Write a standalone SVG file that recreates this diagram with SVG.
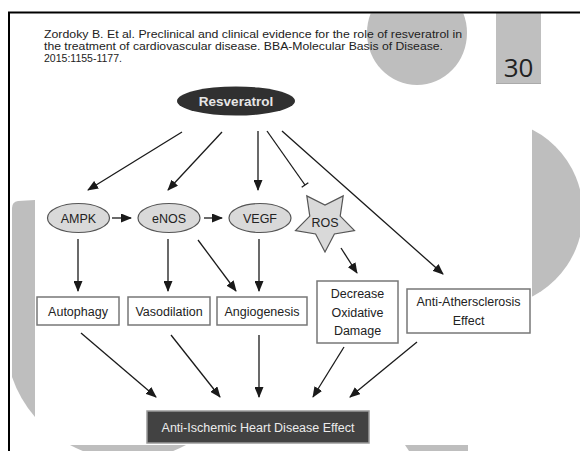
<svg xmlns="http://www.w3.org/2000/svg" width="580" height="451" viewBox="0 0 580 451">
<defs>
<marker id="ah" markerUnits="userSpaceOnUse" markerWidth="11" markerHeight="9" refX="10" refY="4.5" orient="auto"><path d="M0,0 L11,4.5 L0,9 Z" fill="#1a1a1a"/></marker>
<clipPath id="slide"><rect x="10" y="13.5" width="570" height="437.5"/></clipPath>
</defs>
<style>
.deco{fill:#bebebe}
.cite{font-family:"Liberation Sans",Arial,sans-serif;font-size:10.5px;fill:#222}
.lbl{font-family:"Liberation Sans",Arial,sans-serif;font-size:12.5px;fill:#222;text-anchor:middle}
.oval{fill:#d9d9d9;stroke:#555;stroke-width:1.2}
.box{fill:#fff;stroke:#777;stroke-width:1.5}
.edge{stroke:#1a1a1a;stroke-width:1.3;fill:none}
.arr{marker-end:url(#ah)}
</style>
<rect width="580" height="451" fill="#fff"/>
<g id="background" clip-path="url(#slide)">
<ellipse class="deco" cx="417" cy="33" rx="50" ry="52"/>
<circle class="deco" cx="489" cy="213" r="94"/>
<path class="deco" d="M35,200 L18,201 Q12,202 12,208 L12,377 A122,122 0 0 0 35,417 Z"/>
<path class="deco" d="M70,445 A122,122 0 0 0 186,445 Z"/>
<path class="deco" d="M405,445 L468,445 L468,451 L409,451 Z"/>
<rect x="35" y="92" width="497" height="353" fill="#fff"/>
</g>
<g id="page-number">
<rect x="496" y="13" width="45" height="70" fill="#bfbfbf"/>
<line x1="496" y1="83.5" x2="541" y2="83.5" stroke="#aaa" stroke-width="1"/>
<text x="518.5" y="77" font-family="'Open Sans','DejaVu Sans',sans-serif" font-size="26" fill="#222" text-anchor="middle">30</text>
</g>
<g id="citation">
<text class="cite" x="44" y="38" textLength="418" lengthAdjust="spacingAndGlyphs">Zordoky B. Et al. Preclinical and clinical evidence for the role of resveratrol in</text>
<text class="cite" x="44" y="50" textLength="399" lengthAdjust="spacingAndGlyphs">the treatment of cardiovascular disease.  BBA-Molecular Basis of Disease.</text>
<text class="cite" x="44" y="62" textLength="78" lengthAdjust="spacingAndGlyphs">2015:1155-1177.</text>
</g>
<g id="frame" stroke="#000" stroke-width="2">
<line x1="8" y1="12.5" x2="580" y2="12.5"/>
<line x1="9" y1="12" x2="9" y2="451"/>
</g>
<g id="connectors">
<line class="edge arr" x1="182" y1="132" x2="88" y2="190"/>
<line class="edge arr" x1="222" y1="132" x2="168" y2="190"/>
<line class="edge arr" x1="258" y1="131" x2="258" y2="190"/>
<line class="edge" x1="267" y1="131" x2="305" y2="185"/>
<line class="edge" x1="301.7" y1="187.3" x2="308.3" y2="182.7"/>
<line class="edge arr" x1="282" y1="131" x2="443" y2="274"/>
<line class="edge arr" x1="112" y1="218" x2="131" y2="218"/>
<line class="edge arr" x1="204" y1="218" x2="222" y2="218"/>
<line class="edge arr" x1="78" y1="239" x2="78" y2="291"/>
<line class="edge arr" x1="168" y1="239" x2="168" y2="291"/>
<line class="edge arr" x1="259" y1="239" x2="259" y2="291"/>
<line class="edge arr" x1="198" y1="240" x2="236" y2="291"/>
<line class="edge arr" x1="341" y1="248" x2="357" y2="273"/>
<line class="edge arr" x1="81" y1="333" x2="156" y2="397"/>
<line class="edge arr" x1="171" y1="335" x2="220" y2="397"/>
<line class="edge arr" x1="259" y1="335" x2="259" y2="397"/>
<line class="edge arr" x1="344" y1="347" x2="313" y2="397"/>
<line class="edge arr" x1="417" y1="342" x2="350" y2="397"/>
</g>
<g id="resveratrol">
<ellipse cx="236" cy="101" rx="59" ry="14.5" fill="#303030"/>
<text x="236" y="106" font-family="'Liberation Sans',Arial,sans-serif" font-size="13.5" font-weight="bold" fill="#e6e6e6" text-anchor="middle">Resveratrol</text>
</g>
<g id="ampk">
<ellipse class="oval" cx="78.5" cy="218" rx="31" ry="14.5"/>
<text class="lbl" x="78.5" y="222.5">AMPK</text>
</g>
<g id="enos">
<ellipse class="oval" cx="169" cy="218" rx="31" ry="14.5"/>
<text class="lbl" x="169" y="222.5">eNOS</text>
</g>
<g id="vegf">
<ellipse class="oval" cx="260" cy="218" rx="31" ry="14.5"/>
<text class="lbl" x="260" y="222.5">VEGF</text>
</g>
<g id="ros">
<polygon points="325,252 315.6,234 295.5,230.6 309.8,216.1 306.8,195.9 325,205 343.2,195.9 340.2,216.1 354.5,230.6 334.4,234" fill="#d9d9d9" stroke="#555" stroke-width="1.2" stroke-linejoin="miter"/>
<text class="lbl" x="325" y="226.5" font-size="12">ROS</text>
</g>
<g id="autophagy">
<rect class="box" x="37" y="297" width="82" height="28"/>
<text class="lbl" x="78" y="315.5">Autophagy</text>
</g>
<g id="vasodilation">
<rect class="box" x="128" y="297" width="82" height="28"/>
<text class="lbl" x="169" y="315.5">Vasodilation</text>
</g>
<g id="angiogenesis">
<rect class="box" x="217" y="297" width="90" height="28"/>
<text class="lbl" x="262" y="315.5">Angiogenesis</text>
</g>
<g id="decrease">
<rect class="box" x="317" y="281" width="81" height="62"/>
<text class="lbl" x="357.5" y="298">Decrease</text>
<text class="lbl" x="357.5" y="316.5">Oxidative</text>
<text class="lbl" x="357.5" y="335">Damage</text>
</g>
<g id="anti-athersclerosis">
<rect class="box" x="407" y="289" width="123" height="44"/>
<text class="lbl" x="468.5" y="306">Anti-Athersclerosis</text>
<text class="lbl" x="468.5" y="324.5">Effect</text>
</g>
<g id="anti-ischemic">
<rect x="147" y="411" width="222" height="32" fill="#424242" stroke="#9a9a9a" stroke-width="1.5"/>
<text x="258" y="431.5" font-family="'Liberation Sans',Arial,sans-serif" font-size="12.5" fill="#ececec" text-anchor="middle">Anti-Ischemic Heart Disease Effect</text>
</g>
</svg>
